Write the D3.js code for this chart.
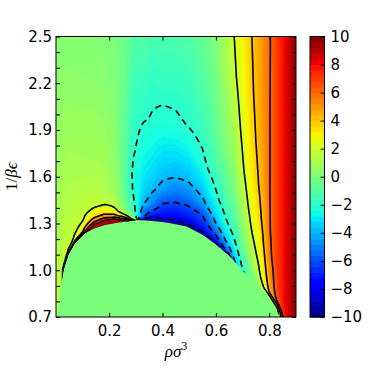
<!DOCTYPE html>
<html><head><meta charset="utf-8">
<script src="https://cdn.jsdelivr.net/npm/d3@7"></script>
<style>
body{margin:0;background:#fff}
svg{display:block}
</style>
</head><body>
<svg id="chart" width="374" height="374"></svg>
<script>
// ---- data ----
// coexistence (binodal) curve: inside it the map is flat green (value 0)
const binodalRho = [0, 0.004, 0.012, 0.02, 0.029, 0.047, 0.072, 0.11, 0.147, 0.185, 0.222, 0.26, 0.29, 0.31, 0.35, 0.40, 0.43, 0.49, 0.55, 0.60, 0.65, 0.70, 0.777, 0.841, 0.90];
const binodalT   = [0.6, 0.7, 0.8, 0.9, 1.0, 1.098, 1.173, 1.237, 1.269, 1.291, 1.302, 1.312, 1.318, 1.323, 1.318, 1.31, 1.302, 1.28, 1.228, 1.166, 1.093, 0.996, 0.873, 0.70, 0.54];
// field grid: columns in density, rows in height above the binodal (1/beta eps units)
const gridRho = [0, 0.027, 0.03, 0.06, 0.10, 0.14, 0.18, 0.22, 0.26, 0.29, 0.31, 0.33, 0.36, 0.40, 0.45, 0.50, 0.55, 0.60, 0.64, 0.67, 0.70, 0.73, 0.76, 0.78, 0.80, 0.83, 0.86, 0.90];
const gridH   = [0, 0.01, 0.025, 0.045, 0.07, 0.1, 0.14, 0.2, 0.3, 0.45, 0.65, 0.9, 1.2, 1.6, 2.0];
const fieldByDensity = [
  [1.5, 1.5, 1.5, 1.5, 1.5, 1.5, 1.4, 1.4, 1.3, 1.2, 1.1, 0.9, 0.6, 0.35, 0.2],
  [1.7, 1.7, 1.6, 1.6, 1.5, 1.5, 1.5, 1.4, 1.3, 1.15, 0.95, 0.7, 0.45, 0.25, 0.2],
  [7.5, 3.5, 2.0, 1.7, 1.6, 1.6, 1.5, 1.5, 1.4, 1.2, 1.0, 0.75, 0.45, 0.25, 0.2],
  [8.0, 5.0, 2.6, 1.9, 1.7, 1.7, 1.6, 1.5, 1.4, 1.2, 0.95, 0.6, 0.35, 0.2, 0.2],
  [8.5, 6.5, 4.0, 3.1, 2.4, 1.9, 1.7, 1.5, 1.3, 1.05, 0.8, 0.5, 0.25, 0.2, 0.2],
  [9.5, 9.0, 8.1, 5.8, 4.0, 2.9, 1.9, 1.5, 1.3, 1.0, 0.75, 0.45, 0.2, 0.15, 0.15],
  [10, 9.5, 8.6, 6.2, 4.0, 2.9, 1.8, 1.3, 1.1, 0.9, 0.6, 0.35, 0.1, 0.1, 0.1],
  [10, 9.5, 8.5, 5.0, 3.0, 2.0, 1.4, 0.9, 0.65, 0.45, 0.25, 0.1, 0.0, 0.0, 0.0],
  [9.5, 8.0, 4.5, 1.9, 0.4, -0.2, -0.5, -0.7, -0.8, -0.8, -0.7, -0.5, -0.3, -0.2, -0.1],
  [6.0, 1.0, -0.5, -1.2, -1.5, -1.7, -1.9, -2.1, -2.2, -1.9, -1.7, -1.4, -1.0, -0.8, -0.6],
  [-4.0, -3.6, -3.3, -3.0, -2.9, -2.8, -2.7, -2.6, -2.5, -2.15, -1.85, -1.5, -1.05, -0.85, -0.7],
  [-11, -8.5, -5.8, -5.3, -4.8, -4.0, -3.6, -3.3, -2.9, -2.5, -1.95, -1.6, -0.9, -0.7, -0.6],
  [-11.5, -9.5, -7.8, -6.8, -5.8, -5.0, -4.4, -3.8, -3.2, -2.7, -2.05, -1.8, -1.2, -0.9, -0.7],
  [-11, -8.3, -7.9, -7.4, -6.9, -6.3, -5.6, -4.5, -3.7, -3.0, -2.2, -1.7, -1.2, -0.9, -0.7],
  [-12, -9.5, -7.9, -7.6, -7.2, -6.7, -6.0, -5.2, -4.0, -3.1, -2.12, -1.75, -1.2, -1.0, -0.8],
  [-12, -9.5, -7.9, -7.5, -7.0, -6.5, -5.95, -5.0, -3.9, -2.9, -1.97, -1.6, -1.05, -0.9, -0.8],
  [-11, -9.0, -7.6, -7.2, -6.8, -6.3, -5.8, -4.4, -3.4, -2.3, -1.7, -1.2, -0.7, -0.5, -0.4],
  [-9.5, -8.0, -7.2, -6.5, -5.7, -4.9, -3.9, -3.2, -2.25, -1.5, -0.8, -0.4, 0.0, 0.3, 0.4],
  [-8.0, -6.7, -5.6, -4.8, -4.0, -3.4, -2.8, -2.1, -1.4, -0.7, 0.0, 0.5, 1.0, 1.3, 1.4],
  [-4.2, -3.9, -3.6, -3.3, -2.9, -2.5, -2.0, -1.5, -0.8, 0.0, 0.7, 1.2, 1.8, 2.2, 2.4],
  [-2.2, -2.0, -1.8, -1.6, -1.3, -1.0, -0.6, -0.2, 0.4, 1.1, 1.8, 2.3, 2.7, 3.1, 3.3],
  [-0.8, -0.6, -0.4, -0.2, 0.1, 0.4, 0.8, 1.2, 1.8, 2.4, 3.0, 3.4, 3.7, 3.9, 4.0],
  [0.6, 0.8, 1.0, 1.2, 1.5, 1.8, 2.05, 2.4, 2.9, 3.5, 4.0, 4.3, 4.5, 4.65, 4.8],
  [1.6, 1.8, 2.1, 2.5, 2.9, 3.1, 3.4, 3.7, 4.1, 4.5, 4.8, 5.0, 5.2, 5.3, 5.4],
  [0.8, 1.2, 1.7, 4.0, 4.4, 4.7, 4.9, 5.1, 5.6, 5.85, 5.9, 5.9, 5.9, 5.85, 5.8],
  [1.0, 1.3, 1.8, 3.5, 6.2, 6.6, 6.8, 6.9, 7.0, 7.0, 7.0, 7.0, 7.0, 7.0, 7.0],
  [7.0, 7.3, 7.6, 7.8, 8.0, 8.1, 8.2, 8.2, 8.2, 8.2, 8.2, 8.2, 8.2, 8.2, 8.2],
  [9.5, 9.5, 9.6, 9.6, 9.7, 9.7, 9.8, 9.8, 9.8, 9.8, 9.8, 9.8, 9.8, 9.8, 9.8]
];
const lineLevels = [-8, -6, -4, -2, 2, 4, 6, 8];
const xTickValues = [0.2, 0.4, 0.6, 0.8];
const yTickValues = [0.7, 0.8, 0.9, 1.0, 1.1, 1.2, 1.3, 1.4, 1.5, 1.6, 1.7, 1.8, 1.9, 2.0, 2.1, 2.2, 2.3, 2.4, 2.5];
const yLabelValues = [0.7, 1.0, 1.3, 1.6, 1.9, 2.2, 2.5];
const colorTicks = [-10, -8, -6, -4, -2, 0, 2, 4, 6, 8, 10];
const colorDomain = [-10, 10];
const bandStep = 0.2;
const barStep = 0.4;

// ---- layout ----
const plot = {left: 56, right: 296, top: 36.5, bottom: 317};
const cbar = {left: 310, right: 324.5};
const svg = d3.select("#chart");
const x = d3.scaleLinear().domain([0.001, 0.9]).range([plot.left, plot.right]);
const y = d3.scaleLinear().domain([0.7, 2.5]).range([plot.bottom, plot.top]);

// matplotlib "jet"
const jetR = d3.scaleLinear().domain([0, 0.35, 0.66, 0.89, 1]).range([0, 0, 1, 1, 0.5]).clamp(true);
const jetG = d3.scaleLinear().domain([0, 0.125, 0.375, 0.64, 0.91, 1]).range([0, 0, 1, 1, 0, 0]).clamp(true);
const jetB = d3.scaleLinear().domain([0, 0.11, 0.34, 0.65, 1]).range([0.5, 1, 1, 0, 0]).clamp(true);
const toUnit = d3.scaleLinear().domain(colorDomain).range([0, 1]).clamp(true);
function jet(v) { const t = toUnit(v); return d3.rgb(255 * jetR(t), 255 * jetG(t), 255 * jetB(t)).formatHex(); }

// field lookup
const tb = d3.scaleLinear().domain(binodalRho).range(binodalT);
const colIdx = d3.scaleLinear().domain(gridRho).range(gridRho.map((d, i) => i)).clamp(true);
const rowIdx = d3.scaleLinear().domain(gridH).range(gridH.map((d, i) => i)).clamp(true);
function fieldAt(rho, T) {
  const h = Math.max(0, T - tb(rho));
  const ci = colIdx(rho), ri = rowIdx(h);
  const i0 = Math.min(Math.floor(ci), gridRho.length - 2), j0 = Math.min(Math.floor(ri), gridH.length - 2);
  const fx = ci - i0, fy = ri - j0;
  const a = fieldByDensity[i0][j0], b = fieldByDensity[i0 + 1][j0], c = fieldByDensity[i0][j0 + 1], d = fieldByDensity[i0 + 1][j0 + 1];
  return a * (1 - fx) * (1 - fy) + b * fx * (1 - fy) + c * (1 - fx) * fy + d * fx * fy;
}

// sample at pixel resolution with a margin
const m = 3;
const x0 = plot.left - m, y0 = plot.top - m;
const nx = Math.ceil(plot.right - plot.left + 2 * m), ny = Math.ceil(plot.bottom - plot.top + 2 * m);
const values = new Float64Array(nx * ny);
for (let j = 0; j < ny; j++) for (let i = 0; i < nx; i++) {
  values[j * nx + i] = fieldAt(x.invert(x0 + i + 0.5), y.invert(y0 + j + 0.5));
}
const contours = d3.contours().size([nx, ny]);
const path = d3.geoPath(d3.geoIdentity().translate([x0, y0]));

const defs = svg.append("defs");
defs.append("clipPath").attr("id", "plotClip").append("rect")
  .attr("x", plot.left).attr("y", plot.top).attr("width", plot.right - plot.left).attr("height", plot.bottom - plot.top);
const binPts = binodalRho.map((r, i) => [x(r), y(binodalT[i])]);
const aboveShape = binPts.concat([[plot.right + 20, plot.top - 20], [plot.left - 20, plot.top - 20]]);
const belowShape = binPts.concat([[plot.right + 20, plot.bottom + 40], [plot.left - 20, plot.bottom + 40]]);
defs.append("clipPath").attr("id", "aboveClip").append("path").attr("d", "M" + aboveShape.join("L") + "Z");
defs.append("clipPath").attr("id", "leftClip").append("rect")
  .attr("x", plot.left - 5).attr("y", plot.top - 5).attr("width", x(0.5) - plot.left).attr("height", plot.bottom - plot.top + 10);

const plotG = svg.append("g").attr("clip-path", "url(#plotClip)");
// filled bands
const edges = d3.range(colorDomain[0], colorDomain[1] - 1e-9, bandStep);
plotG.append("rect").attr("x", x0).attr("y", y0).attr("width", nx).attr("height", ny).attr("fill", jet(edges[0] + bandStep / 2));
const bandG = plotG.append("g");
edges.slice(1).forEach(e => {
  bandG.append("path").attr("d", path(contours.thresholds([e])(values)[0])).attr("fill", jet(e + bandStep / 2));
});
// coexistence region
plotG.append("path").attr("d", "M" + belowShape.join("L") + "Z").attr("fill", jet(0));
// contour lines
const lineG = plotG.append("g").attr("clip-path", "url(#aboveClip)");
lineLevels.forEach(L => {
  const g = L === 8 ? lineG.append("g").attr("clip-path", "url(#leftClip)") : lineG;
  g.append("path").attr("d", path(contours.thresholds([L])(values)[0]))
    .attr("fill", "none").attr("stroke", "#000").attr("stroke-width", 1.6)
    .attr("stroke-dasharray", L < 0 ? "6.5,4.5" : null).attr("stroke-linejoin", "round");
});

// axes
function styleAxis(g) {
  g.select(".domain").remove();
  g.attr("font-size", 15).attr("font-family", "DejaVu Sans, sans-serif");
  g.selectAll(".tick line").attr("stroke", "#000").attr("stroke-width", 1);
  g.selectAll(".tick text").attr("fill", "#000");
}
const fmt = d3.format(".1f");
svg.append("g").attr("transform", `translate(0,${plot.bottom})`)
  .call(d3.axisBottom(x).tickValues(xTickValues).tickSize(-4).tickPadding(8).tickFormat(fmt)).call(styleAxis);
svg.append("g").attr("transform", `translate(0,${plot.top})`)
  .call(d3.axisTop(x).tickValues(xTickValues).tickSize(-4).tickFormat("")).call(styleAxis);
svg.append("g").attr("transform", `translate(${plot.left},0)`)
  .call(d3.axisLeft(y).tickValues(yTickValues).tickSize(-4).tickPadding(4)
    .tickFormat(d => yLabelValues.some(v => Math.abs(v - d) < 1e-9) ? fmt(d) : "")).call(styleAxis);
svg.append("g").attr("transform", `translate(${plot.right},0)`)
  .call(d3.axisRight(y).tickValues(yTickValues).tickSize(-4).tickFormat("")).call(styleAxis);
svg.append("rect").attr("x", plot.left).attr("y", plot.top).attr("width", plot.right - plot.left).attr("height", plot.bottom - plot.top)
  .attr("fill", "none").attr("stroke", "#000").attr("stroke-width", 1);

// colorbar
const yc = d3.scaleLinear().domain(colorDomain).range([plot.bottom, plot.top]);
const barEdges = d3.range(colorDomain[0], colorDomain[1] - 1e-9, barStep);
svg.append("g").selectAll("rect").data(barEdges).join("rect")
  .attr("x", cbar.left).attr("width", cbar.right - cbar.left)
  .attr("y", d => yc(d + barStep)).attr("height", d => yc(d) - yc(d + barStep) + 0.6)
  .attr("fill", d => jet(d + barStep / 2));
svg.append("rect").attr("x", cbar.left).attr("y", plot.top).attr("width", cbar.right - cbar.left).attr("height", plot.bottom - plot.top)
  .attr("fill", "none").attr("stroke", "#000").attr("stroke-width", 1);
svg.append("g").attr("transform", `translate(${cbar.right},0)`)
  .call(d3.axisRight(yc).tickValues(colorTicks).tickSize(-4).tickPadding(6).tickFormat(d3.format("d"))).call(styleAxis);

// axis titles
const xt = svg.append("text").attr("x", (plot.left + plot.right) / 2).attr("y", 357).attr("text-anchor", "middle")
  .attr("font-family", "Liberation Serif, DejaVu Serif, serif").attr("font-size", 17).attr("font-style", "italic");
xt.append("tspan").text("ρσ");
xt.append("tspan").attr("dy", -7).attr("font-size", 12).attr("font-style", "normal").text("3");
const yt = svg.append("text").attr("transform", `translate(17,${(plot.top + plot.bottom) / 2}) rotate(-90)`).attr("text-anchor", "middle")
  .attr("font-family", "Liberation Serif, DejaVu Serif, serif").attr("font-size", 17);
yt.append("tspan").text("1/");
yt.append("tspan").attr("font-style", "italic").text("βϵ");
</script>
</body></html>
